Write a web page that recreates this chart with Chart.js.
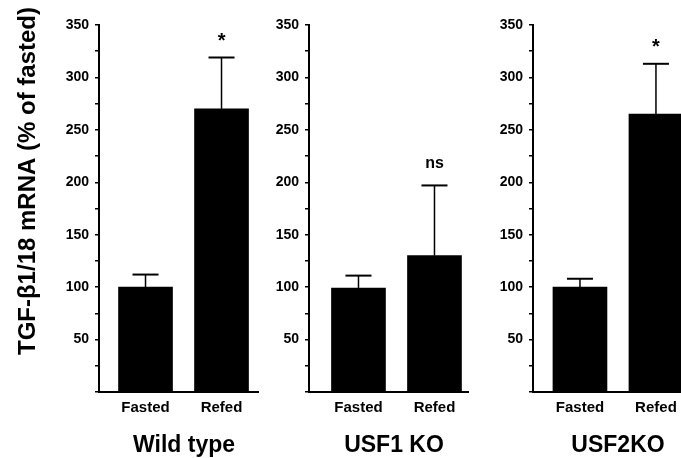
<!DOCTYPE html>
<html>
<head>
<meta charset="utf-8">
<script src="https://cdn.jsdelivr.net/npm/chart.js@4/dist/chart.umd.min.js"></script>
<style>
  html, body { margin: 0; padding: 0; background: #fff; overflow: hidden; }
  #wrap { position: relative; width: 681px; height: 458px; overflow: hidden; }
  .panel { position: absolute; top: 0; }
</style>
</head>
<body>
<div id="wrap">
  <canvas id="c1" class="panel" width="270" height="458" style="left:0px"></canvas>
  <canvas id="c2" class="panel" width="270" height="458" style="left:210px"></canvas>
  <canvas id="c3" class="panel" width="300" height="458" style="left:434px"></canvas>
</div>
<script>
// data
const groups = ['Fasted', 'Refed']
const genotypes = ['Wild type', 'USF1 KO', 'USF2KO']
const wildType = [100, 270]
const wildTypeErr = [112, 319]
const usf1 = [99, 130]
const usf1Err = [111, 197]
const usf2 = [100, 265]
const usf2Err = [108, 313]
const marks = [['', '*'], ['', 'ns'], ['', '*']]
const yTitle = 'TGF-\u03b21/18 mRNA (% of fasted)'

const FONT = "'Liberation Sans', Arial, Helvetica, sans-serif"
Chart.defaults.font.family = FONT
Chart.defaults.color = '#000'

// error bars + significance marks
const errorBars = {
  id: 'errorBars',
  afterDatasetsDraw(chart, args, opts) {
    const ctx = chart.ctx
    const xs = chart.scales.x, ys = chart.scales.y
    const vals = chart.data.datasets[0].data
    ctx.save()
    ctx.strokeStyle = '#000'
    vals.forEach((p, i) => {
      const x = xs.getPixelForValue(p.x)
      const yb = ys.getPixelForValue(p.y)
      const yt = ys.getPixelForValue(opts.err[i])
      ctx.lineWidth = 1.5
      ctx.beginPath()
      ctx.moveTo(x, yb)
      ctx.lineTo(x, yt)
      ctx.stroke()
      ctx.lineWidth = 2
      ctx.beginPath()
      ctx.moveTo(x - 13, yt)
      ctx.lineTo(x + 13, yt)
      ctx.stroke()
      const m = opts.marks[i]
      if (m) {
        ctx.fillStyle = '#000'
        ctx.textAlign = 'center'
        ctx.textBaseline = 'middle'
        if (m === '*') {
          ctx.font = 'bold 20px ' + FONT
          ctx.fillText(m, x, yt - 16)
        } else {
          ctx.font = 'bold 16px ' + FONT
          ctx.fillText(m, x, yt - 22)
        }
      }
    })
    ctx.restore()
  }
}

// panel name under the axis, and the y title on the first panel
const panelText = {
  id: 'panelText',
  afterDraw(chart, args, opts) {
    const ctx = chart.ctx
    ctx.save()
    ctx.fillStyle = '#000'
    ctx.textAlign = 'center'
    ctx.textBaseline = 'middle'
    ctx.font = 'bold 23px ' + FONT
    ctx.fillText(opts.name, chart.chartArea.left + 85, 446)
    if (opts.yTitle) {
      ctx.translate(28, 181)
      ctx.rotate(-Math.PI / 2)
      ctx.font = 'bold 24px ' + FONT
      ctx.fillText(opts.yTitle, 0, 0)
    }
    ctx.restore()
  }
}

function makePanel(id, values, errs, name, m, xmin, xmax, withTitle) {
  const pts = values.map((v, i) => ({ x: i + 1, y: v }))
  return new Chart(document.getElementById(id), {
    type: 'bar',
    data: {
      datasets: [{
        data: pts,
        backgroundColor: '#000',
        borderWidth: 0,
        barThickness: 54
      }]
    },
    options: {
      responsive: false,
      animation: false,
      layout: { padding: { top: 25, right: 12, left: 0, bottom: 0 } },
      plugins: {
        legend: { display: false },
        tooltip: { enabled: false },
        errorBars: { err: errs, marks: m },
        panelText: { name: name, yTitle: withTitle ? yTitle : null }
      },
      scales: {
        x: {
          type: 'linear',
          offset: false,
          min: xmin,
          max: xmax,
          afterBuildTicks: s => { s.ticks = groups.map((g, i) => ({ value: i + 1 })) },
          afterFit: s => { s.height = 66 },
          grid: { display: false, drawTicks: false, offset: false },
          border: { display: true, color: '#000', width: 2 },
          ticks: {
            autoSkip: false,
            maxRotation: 0,
            padding: 7,
            font: { size: 15, weight: 'bold' },
            callback: (v, i) => groups[i]
          }
        },
        y: {
          min: 0,
          max: 350,
          afterFit: s => { s.width = 99 },
          grid: { drawOnChartArea: false, drawTicks: true, tickLength: 4, color: '#000', lineWidth: 1.5 },
          border: { display: true, color: '#000', width: 2 },
          ticks: {
            stepSize: 25,
            padding: 6,
            font: { size: 14, weight: 'bold' },
            callback: v => (v > 0 && v % 50 === 0) ? v : ''
          }
        }
      }
    },
    plugins: [errorBars, panelText]
  })
}

makePanel('c1', wildType, wildTypeErr, genotypes[0], marks[0], 0.388, 2.48, true)
makePanel('c2', usf1, usf1Err, genotypes[1], marks[1], 0.349, 2.441, false)
makePanel('c3', usf2, usf2Err, genotypes[2], marks[2], 0.382, 2.869, false)
</script>
</body>
</html>
